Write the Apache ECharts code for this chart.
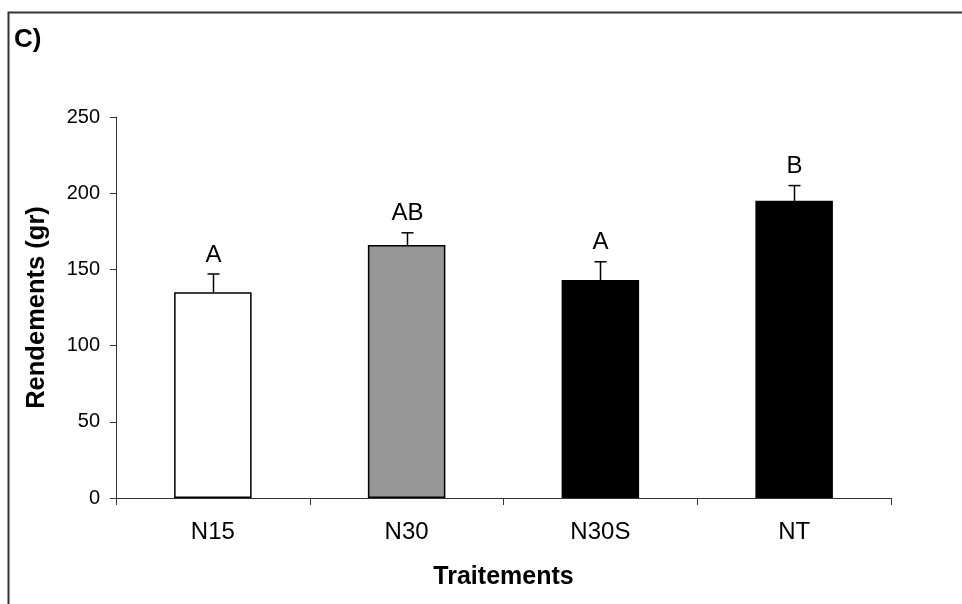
<!DOCTYPE html>
<html>
<head>
<meta charset="utf-8">
<script src="https://cdn.jsdelivr.net/npm/echarts@6/dist/echarts.min.js"></script>
<style>
html,body{margin:0;padding:0;background:#fff;}
#chart{width:962px;height:604px;}
</style>
</head>
<body>
<div id="chart"></div>
<script>
var categories = ['N15', 'N30', 'N30S', 'NT'];
var means = [135, 166, 143, 195];
var errors = [12, 8, 12, 10];
var letters = ['A', 'AB', 'A', 'B'];
var barColors = ['#ffffff', '#969696', '#000000', '#000000'];
var yTicks = [0, 50, 100, 150, 200, 250];

var FONT = 'Liberation Sans, Arial, sans-serif';
var chart = echarts.init(document.getElementById('chart'));

var barData = means.map(function (v, i) {
  return { value: v, itemStyle: { color: barColors[i] } };
});
var errData = means.map(function (v, i) { return [i, v, v + errors[i], letters[i]]; });

chart.setOption({
  animation: false,
  backgroundColor: '#ffffff',
  graphic: [
    { type: 'rect', shape: { x: 8.5, y: 12.5, width: 2000, height: 2000 },
      style: { fill: 'none', stroke: '#333333', lineWidth: 2 }, silent: true },
    { type: 'text', left: 14, top: 27,
      style: { text: 'C)', font: 'bold 26px ' + FONT, fill: '#000' } }
  ],
  grid: { left: 116, right: 71, top: 117, bottom: 106 },
  xAxis: {
    type: 'category',
    data: categories,
    name: 'Traitements',
    nameLocation: 'middle',
    nameGap: 67,
    nameTextStyle: { fontFamily: FONT, fontSize: 25, fontWeight: 'bold', color: '#000' },
    axisLine: { lineStyle: { color: '#333', width: 1 } },
    axisTick: { show: true, length: 7, alignWithLabel: false, lineStyle: { color: '#333' } },
    axisLabel: { fontFamily: FONT, fontSize: 24, color: '#000', margin: 22 },
    splitLine: { show: false }
  },
  yAxis: {
    type: 'value',
    min: 0, max: 250, interval: 50,
    name: 'Rendements (gr)',
    nameLocation: 'middle',
    nameGap: 66,
    nameRotate: 90,
    nameTextStyle: { fontFamily: FONT, fontSize: 25.5, fontWeight: 'bold', color: '#000' },
    axisLine: { show: true, lineStyle: { color: '#333', width: 1 } },
    axisTick: { show: true, length: 6, lineStyle: { color: '#333' } },
    axisLabel: { fontFamily: FONT, fontSize: 20, color: '#000', margin: 16,
      formatter: function (v) { return yTicks.indexOf(v) >= 0 ? String(v) : ''; } },
    splitLine: { show: false }
  },
  series: [
    {
      type: 'bar',
      data: barData,
      barWidth: '40%',
      itemStyle: { borderColor: '#000', borderWidth: 1.5 },
      z: 2
    },
    {
      type: 'custom',
      data: errData,
      z: 3,
      renderItem: function (params, api) {
        var base = api.coord([api.value(0), api.value(1)]);
        var top = api.coord([api.value(0), api.value(2)]);
        var label = letters[params.dataIndex];
        var x = Math.round(base[0]) + 0.5;
        return {
          type: 'group',
          children: [
            { type: 'line', shape: { x1: x, y1: base[1], x2: x, y2: top[1] },
              style: { stroke: '#000', lineWidth: 1.5 } },
            { type: 'line', shape: { x1: x - 6, y1: top[1], x2: x + 6, y2: top[1] },
              style: { stroke: '#000', lineWidth: 1.5 } },
            { type: 'text', x: x, y: top[1] - 7,
              style: { text: label, textAlign: 'center', textVerticalAlign: 'bottom',
                font: '24px ' + FONT, fill: '#000' } }
          ]
        };
      }
    }
  ]
});
</script>
</body>
</html>
